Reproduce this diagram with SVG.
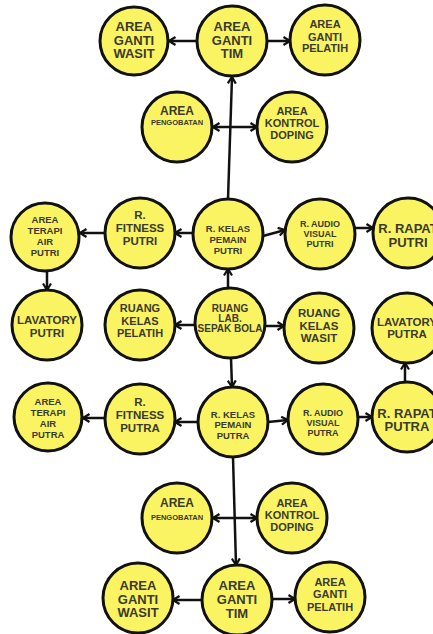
<svg xmlns="http://www.w3.org/2000/svg" width="433" height="634" viewBox="0 0 433 634">
<style>
.n circle{fill:#FAF462;stroke:#111;stroke-width:3}
.n text{font-family:"Liberation Sans",Arial,sans-serif;font-weight:bold;fill:#3a3a2c;text-anchor:middle}
.c line{stroke:#111;stroke-width:2.5;fill:none;marker-end:url(#ah)}
.c line.d{marker-start:url(#ah)}
</style>
<defs>
<marker id="ah" viewBox="0 0 10 10" refX="8.5" refY="5" markerWidth="10" markerHeight="10" markerUnits="userSpaceOnUse" orient="auto-start-reverse">
<path d="M2,1 L8.5,5 L2,9" fill="none" stroke="#111" stroke-width="2.2"/>
</marker>
</defs>
<rect width="433" height="634" fill="#fff"/>
<g class="c">
<line x1="197" y1="41" x2="169" y2="41"/>
<line x1="267" y1="41" x2="290" y2="41"/>
<line x1="228" y1="199" x2="232" y2="77"/>
<line class="d" x1="213" y1="127" x2="257" y2="127"/>
<line x1="193" y1="233" x2="175" y2="233"/>
<line x1="105" y1="233" x2="80" y2="233"/>
<line x1="263" y1="236" x2="285" y2="230"/>
<line x1="355" y1="228" x2="373" y2="228"/>
<line x1="47" y1="272" x2="47" y2="290"/>
<line x1="228" y1="288" x2="228" y2="269"/>
<line x1="195" y1="325" x2="175" y2="325"/>
<line x1="265" y1="326" x2="284" y2="326"/>
<line x1="231" y1="358" x2="232" y2="387"/>
<line x1="405" y1="382" x2="405" y2="363"/>
<line x1="198" y1="422" x2="175" y2="422"/>
<line x1="105" y1="418" x2="83" y2="418"/>
<line x1="268" y1="422" x2="288" y2="420"/>
<line x1="358" y1="417" x2="372" y2="417"/>
<line x1="233" y1="457" x2="236" y2="565"/>
<line class="d" x1="213" y1="518" x2="257" y2="518"/>
<line x1="202" y1="600" x2="173" y2="600"/>
<line x1="272" y1="599" x2="295" y2="599"/>
</g>
<g id="n1" class="n"><circle cx="134" cy="41" r="34"/><text font-size="13"><tspan x="134" y="31">AREA</tspan><tspan x="134" y="45">GANTI</tspan><tspan x="134" y="58">WASIT</tspan></text></g>
<g id="n2" class="n"><circle cx="232" cy="41" r="35"/><text font-size="13"><tspan x="232" y="31">AREA</tspan><tspan x="232" y="45">GANTI</tspan><tspan x="232" y="58">TIM</tspan></text></g>
<g id="n3" class="n"><circle cx="325" cy="40" r="35"/><text font-size="11"><tspan x="325" y="28">AREA</tspan><tspan x="325" y="41">GANTI</tspan><tspan x="325" y="52">PELATIH</tspan></text></g>
<g id="n4" class="n"><circle cx="177" cy="127" r="35"/><text><tspan x="177" y="115" font-size="12">AREA</tspan><tspan x="177" y="125" font-size="7.5">PENGOBATAN</tspan></text></g>
<g id="n5" class="n"><circle cx="292" cy="127" r="35"/><text font-size="11"><tspan x="292" y="115">AREA</tspan><tspan x="292" y="127">KONTROL</tspan><tspan x="292" y="139">DOPING</tspan></text></g>
<g id="n6" class="n"><circle cx="45" cy="237" r="34"/><text font-size="9.5"><tspan x="45" y="223">AREA</tspan><tspan x="45" y="234">TERAPI</tspan><tspan x="45" y="245">AIR</tspan><tspan x="45" y="256">PUTRI</tspan></text></g>
<g id="n7" class="n"><circle cx="140" cy="233" r="35"/><text font-size="11.5"><tspan x="140" y="219">R.</tspan><tspan x="140" y="232">FITNESS</tspan><tspan x="140" y="245">PUTRI</tspan></text></g>
<g id="n8" class="n"><circle cx="228" cy="234" r="35"/><text font-size="9.5"><tspan x="228" y="232">R. KELAS</tspan><tspan x="228" y="243">PEMAIN</tspan><tspan x="228" y="254">PUTRI</tspan></text></g>
<g id="n9" class="n"><circle cx="320" cy="234" r="35"/><text font-size="9"><tspan x="320" y="227">R. AUDIO</tspan><tspan x="320" y="237">VISUAL</tspan><tspan x="320" y="247">PUTRI</tspan></text></g>
<g id="n10" class="n"><circle cx="408" cy="233" r="35"/><text font-size="13"><tspan x="408" y="233">R. RAPAT</tspan><tspan x="408" y="247">PUTRI</tspan></text></g>
<g id="n11" class="n"><circle cx="47" cy="325" r="35"/><text font-size="11.5"><tspan x="47" y="324">LAVATORY</tspan><tspan x="47" y="337">PUTRI</tspan></text></g>
<g id="n12" class="n"><circle cx="140" cy="325" r="35"/><text font-size="11"><tspan x="140" y="312">RUANG</tspan><tspan x="140" y="325">KELAS</tspan><tspan x="140" y="337">PELATIH</tspan></text></g>
<g id="n13" class="n"><circle cx="230" cy="323" r="35"/><text font-size="10"><tspan x="230" y="312">RUANG</tspan><tspan x="230" y="322">LAB.</tspan><tspan x="230" y="332">SEPAK BOLA</tspan></text></g>
<g id="n14" class="n"><circle cx="319" cy="328" r="35"/><text font-size="11.5"><tspan x="319" y="317">RUANG</tspan><tspan x="319" y="330">KELAS</tspan><tspan x="319" y="342">WASIT</tspan></text></g>
<g id="n15" class="n"><circle cx="407" cy="328" r="35"/><text font-size="11.5"><tspan x="407" y="326">LAVATORY</tspan><tspan x="407" y="338">PUTRA</tspan></text></g>
<g id="n16" class="n"><circle cx="48" cy="417" r="34"/><text font-size="9.5"><tspan x="48" y="405">AREA</tspan><tspan x="48" y="416">TERAPI</tspan><tspan x="48" y="427">AIR</tspan><tspan x="48" y="438">PUTRA</tspan></text></g>
<g id="n17" class="n"><circle cx="140" cy="419" r="35"/><text font-size="11.5"><tspan x="140" y="406">R.</tspan><tspan x="140" y="419">FITNESS</tspan><tspan x="140" y="432">PUTRA</tspan></text></g>
<g id="n18" class="n"><circle cx="233" cy="422" r="35"/><text font-size="9.5"><tspan x="233" y="418">R. KELAS</tspan><tspan x="233" y="428">PEMAIN</tspan><tspan x="233" y="439">PUTRA</tspan></text></g>
<g id="n19" class="n"><circle cx="323" cy="419" r="35"/><text font-size="9"><tspan x="323" y="416">R. AUDIO</tspan><tspan x="323" y="426">VISUAL</tspan><tspan x="323" y="436">PUTRA</tspan></text></g>
<g id="n20" class="n"><circle cx="407" cy="417" r="35"/><text font-size="13"><tspan x="407" y="418">R. RAPAT</tspan><tspan x="407" y="431">PUTRA</tspan></text></g>
<g id="n21" class="n"><circle cx="177" cy="518" r="35"/><text><tspan x="177" y="507" font-size="12">AREA</tspan><tspan x="177" y="520" font-size="7.5">PENGOBATAN</tspan></text></g>
<g id="n22" class="n"><circle cx="292" cy="518" r="35"/><text font-size="11"><tspan x="292" y="507">AREA</tspan><tspan x="292" y="519">KONTROL</tspan><tspan x="292" y="531">DOPING</tspan></text></g>
<g id="n23" class="n"><circle cx="138" cy="598" r="35"/><text font-size="13"><tspan x="138" y="590">AREA</tspan><tspan x="138" y="604">GANTI</tspan><tspan x="138" y="617">WASIT</tspan></text></g>
<g id="n24" class="n"><circle cx="237" cy="600" r="35"/><text font-size="13"><tspan x="237" y="590">AREA</tspan><tspan x="237" y="604">GANTI</tspan><tspan x="237" y="618">TIM</tspan></text></g>
<g id="n25" class="n"><circle cx="330" cy="597" r="35"/><text font-size="11"><tspan x="330" y="586">AREA</tspan><tspan x="330" y="598">GANTI</tspan><tspan x="330" y="611">PELATIH</tspan></text></g>
</svg>
